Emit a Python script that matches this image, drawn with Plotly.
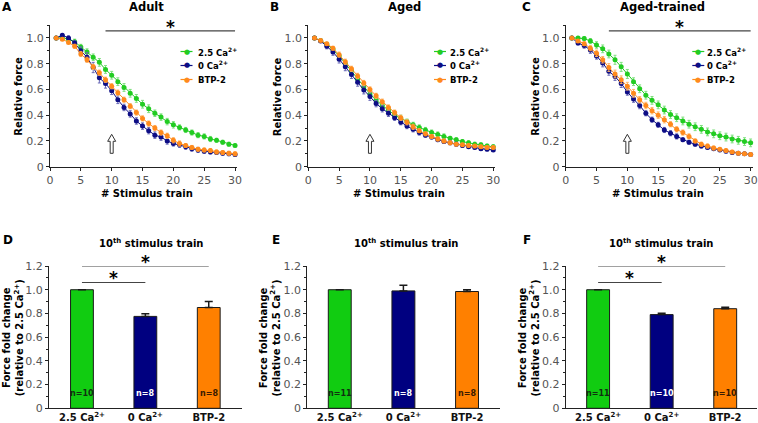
import plotly.graph_objects as go

# ---------------- data ----------------
train = list(range(1, 31))

adult_ca = [1.0, 1.0, 0.99, 0.97, 0.93, 0.89, 0.85, 0.81, 0.755, 0.71, 0.66, 0.615, 0.57, 0.53, 0.485,
            0.45, 0.415, 0.385, 0.35, 0.325, 0.305, 0.285, 0.265, 0.245, 0.235, 0.215, 0.205, 0.19, 0.175, 0.165]
adult_ca_err = [0, 0.01, 0.015, 0.02, 0.02, 0.025, 0.025, 0.03, 0.03, 0.03, 0.03, 0.03, 0.03, 0.03, 0.03,
                0.03, 0.025, 0.025, 0.025, 0.025, 0.02, 0.02, 0.02, 0.02, 0.02, 0.02, 0.015, 0.015, 0.015, 0.012]
adult_0ca = [1.0, 1.02, 1.0, 0.96, 0.90, 0.85, 0.77, 0.69, 0.645, 0.59, 0.52, 0.46, 0.41, 0.355, 0.315,
             0.28, 0.245, 0.23, 0.20, 0.18, 0.17, 0.155, 0.14, 0.13, 0.12, 0.115, 0.11, 0.105, 0.10, 0.095]
adult_0ca_err = [0, 0.01, 0.015, 0.02, 0.03, 0.035, 0.04, 0.04, 0.035, 0.03, 0.03, 0.025, 0.025, 0.025, 0.025,
                 0.025, 0.025, 0.025, 0.025, 0.02, 0.02, 0.02, 0.02, 0.02, 0.015, 0.015, 0.015, 0.015, 0.015, 0.015]
adult_btp = [1.0, 0.99, 0.965, 0.935, 0.875, 0.83, 0.775, 0.73, 0.675, 0.625, 0.575, 0.52, 0.47, 0.42, 0.375,
             0.335, 0.30, 0.265, 0.24, 0.205, 0.18, 0.165, 0.15, 0.135, 0.13, 0.125, 0.115, 0.11, 0.105, 0.10]
adult_btp_err = [0, 0.01, 0.01, 0.015, 0.02, 0.02, 0.02, 0.02, 0.02, 0.02, 0.02, 0.02, 0.02, 0.02, 0.02,
                 0.02, 0.02, 0.02, 0.02, 0.02, 0.02, 0.015, 0.015, 0.015, 0.015, 0.015, 0.015, 0.015, 0.015, 0.015]

aged_ca = [1.0, 0.98, 0.95, 0.91, 0.86, 0.80, 0.745, 0.68, 0.62, 0.565, 0.52, 0.475, 0.44, 0.40, 0.375,
           0.35, 0.325, 0.305, 0.285, 0.265, 0.25, 0.235, 0.22, 0.21, 0.195, 0.185, 0.175, 0.17, 0.16, 0.155]
aged_ca_err = [0, 0.01, 0.015, 0.02, 0.02, 0.025, 0.025, 0.025, 0.025, 0.025, 0.025, 0.025, 0.025, 0.025, 0.025,
               0.02, 0.02, 0.02, 0.02, 0.02, 0.02, 0.02, 0.015, 0.015, 0.015, 0.015, 0.015, 0.015, 0.015, 0.015]
aged_0ca = [1.0, 0.975, 0.935, 0.89, 0.835, 0.775, 0.715, 0.655, 0.595, 0.545, 0.49, 0.45, 0.415, 0.38, 0.345,
            0.315, 0.29, 0.265, 0.245, 0.23, 0.21, 0.195, 0.185, 0.175, 0.165, 0.155, 0.15, 0.14, 0.135, 0.13]
aged_0ca_err = [0, 0.01, 0.02, 0.025, 0.03, 0.03, 0.03, 0.03, 0.03, 0.03, 0.025, 0.025, 0.025, 0.02, 0.02,
                0.02, 0.02, 0.02, 0.015, 0.015, 0.015, 0.015, 0.015, 0.015, 0.015, 0.012, 0.012, 0.012, 0.012, 0.012]
aged_btp = [1.0, 0.98, 0.955, 0.92, 0.87, 0.815, 0.76, 0.705, 0.65, 0.60, 0.55, 0.505, 0.46, 0.42, 0.38,
            0.345, 0.31, 0.28, 0.255, 0.235, 0.215, 0.20, 0.185, 0.175, 0.17, 0.165, 0.16, 0.155, 0.15, 0.15]
aged_btp_err = [0, 0.01, 0.01, 0.015, 0.02, 0.02, 0.02, 0.02, 0.02, 0.02, 0.02, 0.02, 0.02, 0.02, 0.02,
                0.02, 0.02, 0.015, 0.015, 0.015, 0.015, 0.015, 0.015, 0.012, 0.012, 0.012, 0.012, 0.012, 0.012, 0.012]

trained_ca = [1.0, 1.0, 0.995, 0.975, 0.945, 0.915, 0.875, 0.83, 0.775, 0.72, 0.66, 0.605, 0.555, 0.515, 0.48,
              0.44, 0.405, 0.38, 0.355, 0.33, 0.31, 0.29, 0.27, 0.255, 0.24, 0.23, 0.215, 0.205, 0.195, 0.185]
trained_ca_err = [0, 0.01, 0.015, 0.02, 0.025, 0.03, 0.03, 0.035, 0.035, 0.035, 0.03, 0.03, 0.03, 0.03, 0.03,
                  0.03, 0.03, 0.03, 0.03, 0.03, 0.03, 0.03, 0.03, 0.03, 0.03, 0.03, 0.03, 0.03, 0.03, 0.03]
trained_0ca = [1.0, 0.96, 0.94, 0.905, 0.86, 0.805, 0.74, 0.70, 0.645, 0.58, 0.525, 0.475, 0.415, 0.365, 0.325,
               0.285, 0.26, 0.235, 0.21, 0.19, 0.175, 0.16, 0.15, 0.14, 0.13, 0.12, 0.11, 0.105, 0.10, 0.095]
trained_0ca_err = [0, 0.015, 0.02, 0.025, 0.025, 0.03, 0.03, 0.03, 0.03, 0.025, 0.025, 0.025, 0.02, 0.02, 0.02,
                   0.02, 0.02, 0.02, 0.015, 0.015, 0.015, 0.015, 0.012, 0.012, 0.012, 0.012, 0.012, 0.012, 0.012, 0.012]
trained_btp = [1.0, 0.975, 0.955, 0.92, 0.88, 0.83, 0.77, 0.72, 0.675, 0.625, 0.57, 0.52, 0.475, 0.435, 0.40,
               0.365, 0.33, 0.29, 0.265, 0.235, 0.20, 0.175, 0.16, 0.145, 0.135, 0.125, 0.115, 0.105, 0.10, 0.095]
trained_btp_err = [0, 0.01, 0.015, 0.02, 0.025, 0.025, 0.03, 0.03, 0.03, 0.03, 0.03, 0.025, 0.025, 0.025, 0.025,
                   0.025, 0.02, 0.02, 0.02, 0.02, 0.015, 0.015, 0.015, 0.015, 0.012, 0.012, 0.012, 0.012, 0.012, 0.012]

series_names = ["2.5 Ca<sup>2+</sup>", "0 Ca<sup>2+</sup>", "BTP-2"]
panel_titles = ["Adult", "Aged", "Aged-trained"]
bar_categories = ["2.5 Ca<sup>2+</sup>", "0 Ca<sup>2+</sup>", "BTP-2"]

adult_bars = [1.0, 0.775, 0.85]
adult_bars_err = [0.0, 0.022, 0.05]
aged_bars = [1.0, 0.99, 0.985]
aged_bars_err = [0.0, 0.048, 0.015]
trained_bars = [1.0, 0.79, 0.84]
trained_bars_err = [0.0, 0.012, 0.013]

adult_n = ["n=10", "n=8", "n=8"]
aged_n = ["n=11", "n=8", "n=8"]
trained_n = ["n=11", "n=10", "n=10"]

y_ticks_top = [0, 0.2, 0.4, 0.6, 0.8, 1.0]
y_ticks_top_text = ["0", "0.2", "0.4", "0.6", "0.8", "1.0"]
y_ticks_bot = [0, 0.2, 0.4, 0.6, 0.8, 1.0, 1.2]
y_ticks_bot_text = ["0", "0.2", "0.4", "0.6", "0.8", "1.0", "1.2"]
x_ticks_top = [0, 5, 10, 15, 20, 25, 30]

# ---------------- styling ----------------
W, H = 758, 423
FONT = "DejaVu Sans"
line_colors = ["#22cc22", "#0d0d85", "#ff8a1c"]
err_colors = ["#7ee07e", "#6a6ab8", "#ffb566"]
bar_colors = ["#11cc11", "#000080", "#ff8000"]
n_colors = ["#103010", "#ffffff", "#3a1a00"]
AX = "#222222"
TICKC = "#555555"


def px(x):
    return x / W


def py(y):
    return 1 - y / H


top_sets = [
    [(adult_ca, adult_ca_err), (adult_0ca, adult_0ca_err), (adult_btp, adult_btp_err)],
    [(aged_ca, aged_ca_err), (aged_0ca, aged_0ca_err), (aged_btp, aged_btp_err)],
    [(trained_ca, trained_ca_err), (trained_0ca, trained_0ca_err), (trained_btp, trained_btp_err)],
]
bot_sets = [(adult_bars, adult_bars_err, adult_n), (aged_bars, aged_bars_err, aged_n),
            (trained_bars, trained_bars_err, trained_n)]

top_xdom = [(50, 236.9), (308.3, 495.1), (565.7, 752.5)]
bot_xdom = [(49, 241.7), (307.3, 499.5), (565.7, 757.0)]
bot_xrange = [[-0.52, 2.52], [-0.51, 2.51], [-0.51, 2.5]]
top_ydom = [py(166.7), py(25)]
bot_ydom = [py(408.3), py(266)]

fig = go.Figure()
layout = dict(width=W, height=H, margin=dict(l=0, r=0, t=0, b=0, pad=0, autoexpand=False),
              plot_bgcolor="white", paper_bgcolor="white", showlegend=False,
              font=dict(family=FONT, color="#000"))
annotations = []
shapes = []

# ---------------- top panels ----------------
for p in range(3):
    xa = "x" if p == 0 else f"x{p + 1}"
    ya = "y" if p == 0 else f"y{p + 1}"
    for s in range(3):
        vals, errs = top_sets[p][s]
        fig.add_trace(go.Scatter(
            x=train, y=vals, xaxis=xa, yaxis=ya, mode="lines+markers", name=series_names[s],
            line=dict(color=line_colors[s], width=1),
            marker=dict(color=line_colors[s], size=5),
            error_y=dict(type="data", array=errs, color=err_colors[s], thickness=1, width=1.5),
            cliponaxis=False,
        ))
    kx = "xaxis" if p == 0 else f"xaxis{p + 1}"
    ky = "yaxis" if p == 0 else f"yaxis{p + 1}"
    layout[kx] = dict(domain=[px(top_xdom[p][0]), px(top_xdom[p][1])], range=[0, 30.3], anchor=ya,
                      automargin=False,
                      showline=True, linecolor=AX, linewidth=1, ticks="outside", ticklen=3, tickcolor=AX,
                      tickvals=x_ticks_top, showgrid=False, zeroline=False,
                      tickfont=dict(family=FONT, size=11, color=TICKC))
    layout[ky] = dict(domain=top_ydom, range=[0, 1.1], anchor=xa, automargin=False,
                      showline=True, linecolor=AX, linewidth=1, ticks="outside", ticklen=3, tickcolor=AX,
                      tickvals=y_ticks_top, ticktext=y_ticks_top_text, showgrid=False, zeroline=False,
                      minor=dict(ticks="outside", dtick=0.1, ticklen=2, tickcolor=AX),
                      tickfont=dict(family=FONT, size=11, color=TICKC))
    # hollow arrow at 10th train
    shapes.append(dict(type="path", xref=xa, yref=ya, xsizemode="pixel", ysizemode="pixel",
                       xanchor=10, yanchor=0.104,
                       path="M -1.5,0 L 1.5,0 L 1.5,12 L 4,12 L 0,19 L -4,12 L -1.5,12 Z",
                       line=dict(color="#333333", width=1), fillcolor="white"))
    # legend (manual)
    mk = [186.5, 440, 698.3][p]
    tx = [195.5, 447.5, 705][p]
    for s, rowy in enumerate([51.5, 65.5, 79.5]):
        shapes.append(dict(type="line", xref="paper", yref="paper",
                           x0=px(mk - 6), x1=px(mk + 6), y0=py(rowy), y1=py(rowy),
                           line=dict(color=line_colors[s], width=1.2)))
        annotations.append(dict(x=px(mk), y=py(rowy), xref="paper", yref="paper", text="●",
                                showarrow=False, font=dict(family=FONT, size=7, color=line_colors[s]),
                                xanchor="center", yanchor="middle"))
        annotations.append(dict(x=px(tx), y=py(rowy), xref="paper", yref="paper",
                                text="<b>" + series_names[s] + "</b>", showarrow=False,
                                font=dict(family=FONT, size=8.5, color="#000"),
                                xanchor="left", yanchor="middle"))
    # titles
    annotations.append(dict(x=px([146.7, 404.5, 662][p]), y=py(7), xref="paper", yref="paper",
                            text="<b>" + panel_titles[p] + "</b>", showarrow=False,
                            font=dict(family=FONT, size=11.5), xanchor="center", yanchor="middle"))
    annotations.append(dict(x=px([7, 274, 526][p]), y=py(7), xref="paper", yref="paper",
                            text="<b>" + "ABC"[p] + "</b>", showarrow=False,
                            font=dict(family=FONT, size=12), xanchor="center", yanchor="middle"))
    annotations.append(dict(x=px([19, 277.5, 536][p]), y=py(96.7), xref="paper", yref="paper",
                            text="<b>Relative force</b>", showarrow=False, textangle=-90,
                            font=dict(family=FONT, size=10), xanchor="center", yanchor="middle"))
    annotations.append(dict(x=px([146.5, 399, 658][p]), y=py(193), xref="paper", yref="paper",
                            text="<b># Stimulus train</b>", showarrow=False,
                            font=dict(family=FONT, size=10), xanchor="center", yanchor="middle"))

# significance in A and C
for p, x_start, x_star in [(0, 9, 19.6), (2, 7, 18.5)]:
    xa = "x" if p == 0 else f"x{p + 1}"
    ya = "y" if p == 0 else f"y{p + 1}"
    shapes.append(dict(type="line", xref=xa, yref=ya, x0=x_start, x1=30, y0=1.054, y1=1.054,
                       line=dict(color="#444444", width=1.2)))
    annotations.append(dict(x=x_star, y=1.054, xref=xa, yref=ya, text="<b>*</b>", showarrow=False,
                            font=dict(family=FONT, size=17), xanchor="center", yanchor="bottom", yshift=-8))

# ---------------- bottom panels ----------------
for p in range(3):
    idx = p + 4
    xa, ya = f"x{idx}", f"y{idx}"
    vals, errs, ns = bot_sets[p]
    fig.add_trace(go.Bar(
        x=[0, 1, 2], y=vals, xaxis=xa, yaxis=ya, width=0.36,
        marker=dict(color=bar_colors, line=dict(color="#1a1a1a", width=1)),
        error_y=dict(type="data", array=errs, arrayminus=[0, 0, 0], symmetric=False,
                     color="#1a1a1a", thickness=1.5, width=4),
    ))
    layout[f"xaxis{idx}"] = dict(domain=[px(bot_xdom[p][0]), px(bot_xdom[p][1])], range=bot_xrange[p],
                                 anchor=ya, automargin=False, showline=True, linecolor=AX, linewidth=1,
                                 ticks="", ticklabelstandoff=0,
                                 tickvals=[0, 1, 2], ticktext=["<b>" + c + "</b>" for c in bar_categories],
                                 showgrid=False, zeroline=False,
                                 tickfont=dict(family=FONT, size=10, color="#111"))
    layout[f"yaxis{idx}"] = dict(domain=bot_ydom, range=[0, 1.2], anchor=xa, automargin=False,
                                 showline=True, linecolor=AX, linewidth=1, ticks="outside", ticklen=3,
                                 tickcolor=AX, tickvals=y_ticks_bot, ticktext=y_ticks_bot_text,
                                 showgrid=False, zeroline=False,
                                 minor=dict(ticks="outside", dtick=0.1, ticklen=2, tickcolor=AX),
                                 tickfont=dict(family=FONT, size=11, color=TICKC))
    for i in range(3):
        annotations.append(dict(x=i, y=0.126, xref=xa, yref=ya, text="<b>" + ns[i] + "</b>",
                                showarrow=False, font=dict(family=FONT, size=8, color=n_colors[i]),
                                xanchor="center", yanchor="middle"))
    annotations.append(dict(x=px([151.3, 405.5, 661][p]), y=py(242.5), xref="paper", yref="paper",
                            text="<b>10<sup>th</sup> stimulus train</b>", showarrow=False,
                            font=dict(family=FONT, size=10), xanchor="center", yanchor="middle"))
    annotations.append(dict(x=px([7.5, 276, 527][p]), y=py(239.5), xref="paper", yref="paper",
                            text="<b>" + "DEF"[p] + "</b>", showarrow=False,
                            font=dict(family=FONT, size=12), xanchor="center", yanchor="middle"))
    annotations.append(dict(x=px([13.3, 269.5, 528.5][p]), y=py(338), xref="paper", yref="paper",
                            text="<b>Force fold change<br>(relative to 2.5 Ca<sup>2+</sup>)</b>",
                            showarrow=False, textangle=-90,
                            font=dict(family=FONT, size=10), xanchor="center", yanchor="middle"))

# significance in D and F
for idx in (4, 6):
    xa, ya = f"x{idx}", f"y{idx}"
    for x1, yl, xs in [(2, 1.2, 1.0), (1, 1.061, 0.5)]:
        shapes.append(dict(type="line", xref=xa, yref=ya, x0=0, x1=x1, y0=yl, y1=yl,
                           line=dict(color="#444444", width=1.2)))
        annotations.append(dict(x=xs, y=yl, xref=xa, yref=ya, text="<b>*</b>", showarrow=False,
                                font=dict(family=FONT, size=17), xanchor="center", yanchor="bottom",
                                yshift=-8))

layout["annotations"] = annotations
layout["shapes"] = shapes
fig.update_layout(**layout)
fig.write_html("out.html", config={"displayModeBar": False},
               post_script="document.body.style.margin='0';document.body.style.overflow='hidden';")
